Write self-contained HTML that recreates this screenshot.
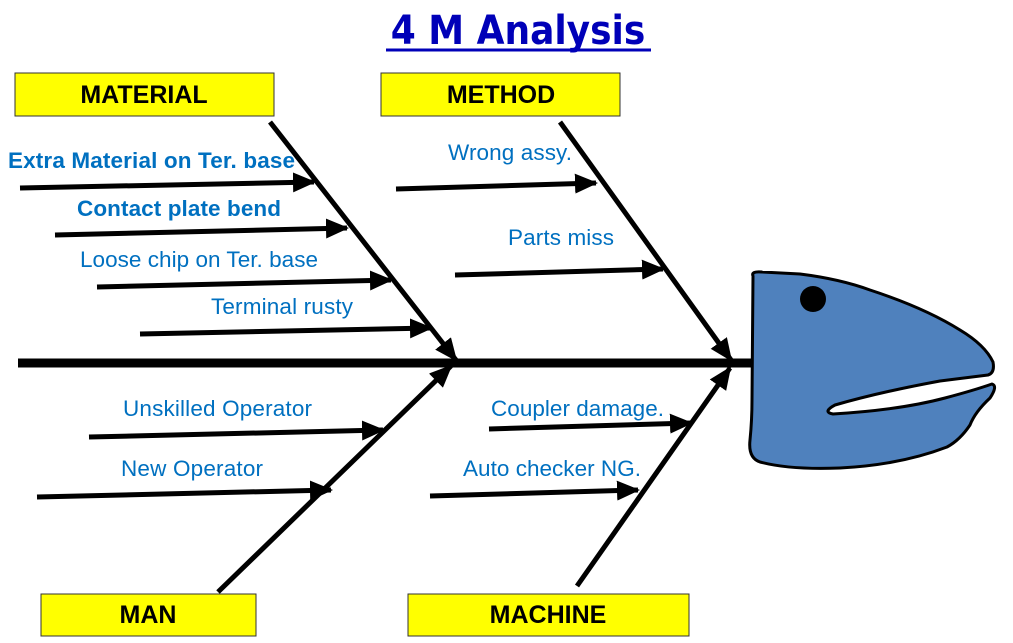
<!DOCTYPE html>
<html><head><meta charset="utf-8"><style>
html,body{margin:0;padding:0;background:#fff;}
svg{display:block;}
text{font-family:"Liberation Sans",Arial,sans-serif;}
</style></head><body>
<svg width="1013" height="643" viewBox="0 0 1013 643">
<defs>
<marker id="ah" markerWidth="24" markerHeight="22" refX="21" refY="11" orient="auto" markerUnits="userSpaceOnUse" viewBox="0 0 24 22">
<path d="M0,1 L23,11 L0,21 z" fill="#000"/>
</marker>
</defs>
<text x="518" y="44" text-anchor="middle" font-size="40" font-weight="bold" fill="#0000b8" style="font-family:'DejaVu Sans Condensed','Liberation Sans',sans-serif">4 M Analysis</text>
<line x1="386" y1="50" x2="651" y2="50" stroke="#0000b8" stroke-width="3"/>

<rect x="15" y="73" width="259" height="43" fill="#ffff00" stroke="#333" stroke-width="1"/>
<text x="144" y="103" text-anchor="middle" font-size="25" font-weight="bold">MATERIAL</text>
<rect x="381" y="73" width="239" height="43" fill="#ffff00" stroke="#333" stroke-width="1"/>
<text x="501" y="103" text-anchor="middle" font-size="25" font-weight="bold">METHOD</text>
<rect x="41" y="594" width="215" height="42" fill="#ffff00" stroke="#333" stroke-width="1"/>
<text x="148" y="623" text-anchor="middle" font-size="25" font-weight="bold">MAN</text>
<rect x="408" y="594" width="281" height="42" fill="#ffff00" stroke="#333" stroke-width="1"/>
<text x="548" y="623" text-anchor="middle" font-size="25" font-weight="bold">MACHINE</text>

<line x1="18" y1="363" x2="752" y2="363" stroke="#000" stroke-width="9"/>

<g stroke="#000" stroke-width="5" fill="none">
<line x1="270" y1="122" x2="456" y2="360" marker-end="url(#ah)"/>
<line x1="560" y1="122" x2="731" y2="360" marker-end="url(#ah)"/>
<line x1="218" y1="592" x2="451" y2="366" marker-end="url(#ah)"/>
<line x1="577" y1="586" x2="730" y2="368" marker-end="url(#ah)"/>

<line x1="20" y1="188" x2="314" y2="182" marker-end="url(#ah)"/>
<line x1="55" y1="235" x2="347" y2="228" marker-end="url(#ah)"/>
<line x1="97" y1="287" x2="391" y2="280" marker-end="url(#ah)"/>
<line x1="140" y1="334" x2="431" y2="328" marker-end="url(#ah)"/>
<line x1="396" y1="189" x2="596" y2="183" marker-end="url(#ah)"/>
<line x1="455" y1="275" x2="663" y2="269" marker-end="url(#ah)"/>
<line x1="89" y1="437" x2="383" y2="430" marker-end="url(#ah)"/>
<line x1="37" y1="497" x2="331" y2="490" marker-end="url(#ah)"/>
<line x1="489" y1="429" x2="691" y2="423" marker-end="url(#ah)"/>
<line x1="430" y1="496" x2="638" y2="490" marker-end="url(#ah)"/>
</g>

<g fill="#0070c0" font-size="22.5">
<text x="8" y="168" font-weight="bold" textLength="287">Extra Material on Ter. base</text>
<text x="77" y="216" font-weight="bold" textLength="204">Contact plate bend</text>
<text x="80" y="267" textLength="238">Loose chip on Ter. base</text>
<text x="211" y="314" textLength="142">Terminal rusty</text>
<text x="448" y="160" textLength="124">Wrong assy.</text>
<text x="508" y="245" textLength="106">Parts miss</text>
<text x="123" y="416" textLength="189">Unskilled Operator</text>
<text x="121" y="476" textLength="142">New Operator</text>
<text x="491" y="416" textLength="173">Coupler damage.</text>
<text x="463" y="476" textLength="178">Auto checker NG.</text>
</g>

<path d="M753,276 Q751,271 762,272 L800,274 Q840,279 870,290 Q925,308 960,330 Q985,345 993,362 Q995,373 988,375 L940,381 Q880,392 835,405 Q822,412 833,414 Q900,410 945,398 Q975,390 992,384 Q998,386 990,398 Q975,412 970,425 Q960,440 947,447 Q900,465 840,468 Q790,470 760,462 Q748,458 750,440 Q752,420 752,400 Z" fill="#4f81bd" stroke="#000" stroke-width="3" stroke-linejoin="round"/>
<circle cx="813" cy="299" r="13" fill="#000"/>
</svg>
</body></html>
